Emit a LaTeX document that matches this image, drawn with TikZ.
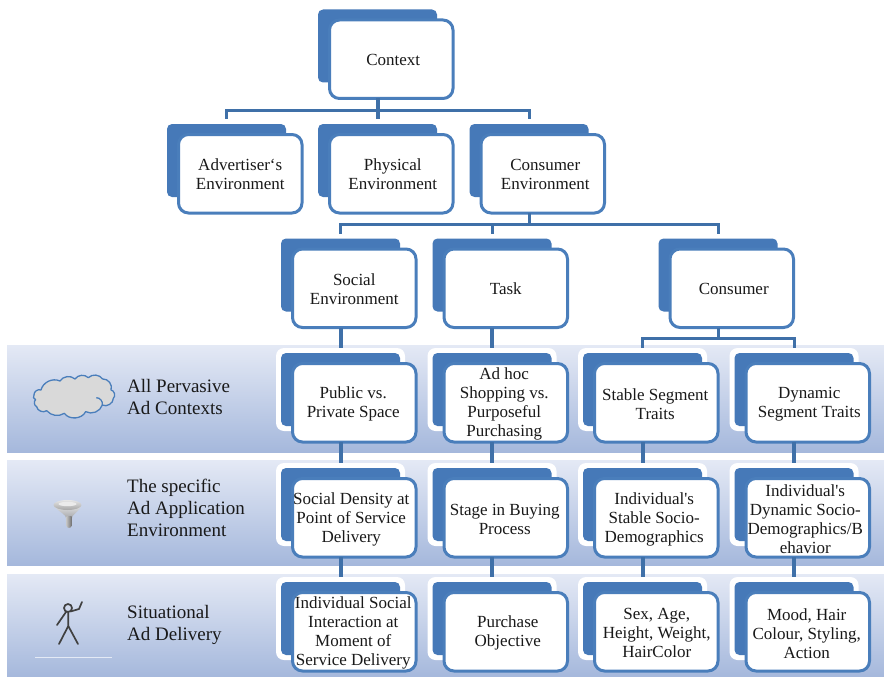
\documentclass[tikz,border=0pt]{standalone}
\usepackage{fontspec}
\setmainfont{Liberation Serif}
\definecolor{framec}{HTML}{4A7EBB}
\definecolor{backc}{HTML}{4679B8}
\definecolor{connc}{HTML}{3F70A8}
\definecolor{bandtop}{HTML}{E4E9F5}
\definecolor{bandbot}{HTML}{A5B8DC}
\tikzset{
  halobox/.style={fill=white,draw=none,rounded corners=8pt,minimum width=129pt,minimum height=83pt,inner sep=0pt,outer sep=0pt,anchor=north west},
  backbox/.style={fill=backc,draw=none,rounded corners=5pt,minimum width=119pt,minimum height=73pt,inner sep=0pt,outer sep=0pt,anchor=north west},
  frontbox/.style={fill=white,draw=framec,line width=3pt,rounded corners=10pt,minimum width=123.5pt,minimum height=78.5pt,inner sep=0pt,outer sep=0pt,anchor=north west},
  boxtext/.style={inner sep=0pt,outer sep=0pt,align=center,font=\fontsize{17}{19}\selectfont,text=black!90},
  conn/.style={draw=connc,line width=3pt},
  connthick/.style={draw=connc,line width=4pt},
  band/.style={top color=bandtop,bottom color=bandbot,draw=none},
  sidelabel/.style={anchor=west,align=left,inner sep=0pt,font=\fontsize{19}{22}\selectfont,text=black!90},
}
\newcommand{\tdy}{-0.5}
\newcommand{\adbox}[5][0]{%
  \pgfmathsetmacro{\bxa}{#3-10}\pgfmathsetmacro{\bya}{#4-9}%
  \pgfmathsetmacro{\hxa}{#3-15}\pgfmathsetmacro{\hya}{#4-14}%
  \pgfmathsetmacro{\fxa}{#3+1.5}\pgfmathsetmacro{\fya}{#4+1.5}%
  \node[halobox] (#2-h) at (\hxa,\hya) {};
  \node[backbox] (#2-b) at (\bxa,\bya) {};
  \node[frontbox] (#2) at (\fxa,\fya) {};
  \node[boxtext] (#2-t) at ([xshift=#1pt,yshift=\tdy pt]#2.center) {#5};
}
\newcommand{\sq}{\textquotesingle}
\begin{document}
\begin{tikzpicture}[x=1pt,y=-1pt]
\useasboundingbox (0,0) rectangle (884,677);
% bands
\path[band] (7,345) rectangle (884,452);
\path[band] (7,460) rectangle (884,565);
\path[band] (7,574) rectangle (884,677);
% boxes
\adbox[2]{ctx}{328}{18.5}{Context}
\adbox{adv}{177}{133}{Advertiser‘s\\Environment}
\adbox[1.5]{phys}{328}{133}{Physical\\Environment}
\adbox[2.5]{cenv}{479.5}{133}{Consumer\\Environment}
\adbox{soc}{291}{247.5}{Social\\Environment}
\adbox{task}{442.5}{247.5}{Task}
\adbox[2]{cons}{668.5}{247.5}{Consumer}
\renewcommand{\tdy}{-1.5}
\adbox[-1]{pub}{291}{362}{Public vs.\\Private Space}
\adbox[-1.5]{adhoc}{442.5}{362}{Ad hoc\\Shopping vs.\\Purposeful\\Purchasing}
\adbox[-1]{stab}{593}{362}{Stable Segment\\Traits}
\adbox[1.5]{dyn}{744.5}{362}{Dynamic\\Segment Traits}
\adbox[-3]{dens}{291}{477}{Social Density at\\Point of Service\\Delivery}
\adbox[-1]{stage}{442.5}{477}{Stage in Buying\\Process}
\adbox[-2]{isoc}{593}{477}{Individual\sq s\\Stable Socio-\\Demographics}
\adbox[-2.5]{idyn}{744.5}{477}{Individual\sq s\\Dynamic Socio-\\Demographics/B\\ehavior}
\adbox[-1]{inter}{291}{591}{Individual Social\\Interaction at\\Moment of\\Service Delivery}
\adbox[2]{purch}{442.5}{591}{Purchase\\Objective}
\adbox[0.5]{sex}{593}{591}{Sex, Age,\\Height, Weight,\\HairColor}
\adbox[-1]{mood}{744.5}{591}{Mood, Hair\\Colour, Styling,\\Action}
% connectors
\draw[conn] (ctx-h |- ctx.south) -- ++(0,12) -| (adv-h.north);
\draw[conn] (ctx-h |- ctx.south) -- ++(0,12) -| (cenv-h.north);
\draw[connthick] (ctx-h |- ctx.south) -- (phys-h.north);
\draw[conn] (cenv-h |- cenv.south) -- ++(0,11.5) -| (soc-h.north);
\draw[conn] (cenv-h |- cenv.south) -- ++(0,11.5) -| (task-h.north);
\draw[conn] (cenv-h |- cenv.south) -- ++(0,11.5) -| (cons-h.north);
\draw[connthick] (soc-h |- soc.south) -- (pub-h.north);
\draw[connthick] (task-h |- task.south) -- (adhoc-h.north);
\draw[conn] (cons-h |- cons.south) -- ++(0,10.5) -| (stab-h.north);
\draw[conn] (cons-h |- cons.south) -- ++(0,10.5) -| (dyn-h.north);
\draw[connthick] (pub-h |- pub.south) -- (dens-h.north);
\draw[connthick] (adhoc-h |- adhoc.south) -- (stage-h.north);
\draw[connthick] (stab-h |- stab.south) -- (isoc-h.north);
\draw[connthick] (dyn-h |- dyn.south) -- (idyn-h.north);
\draw[connthick] (dens-h |- dens.south) -- (inter-h.north);
\draw[connthick] (stage-h |- stage.south) -- (purch-h.north);
\draw[connthick] (isoc-h |- isoc.south) -- (sex-h.north);
\draw[connthick] (idyn-h |- idyn.south) -- (mood-h.north);
% side labels
\node[sidelabel] (l1) at (127,396.5) {All Pervasive\\Ad Contexts};
\node[sidelabel] (l2) at (127,507.5) {The specific\\Ad Application\\Environment};
\node[sidelabel] (l3) at (127,625) {Situational\\Ad Delivery};
% cloud
\begin{scope}[shift={(25,365)},x=0.3333pt,y=-0.3333pt]
\draw[fill=black!15,draw=framec,line width=1.3pt,line join=round]
  (48,75) to[bend left=50] (105,48) to[bend left=50] (150,42) to[bend left=50] (190,38)
  to[bend left=50] (233,42) to[bend left=60] (258,75) to[bend left=70] (265,100) to[bend left=60] (232,120)
  to[bend left=50] (182,140) to[bend left=60] (118,145) to[bend left=40] (65,137) to[bend left=60] (35,125)
  to[bend left=60] (32,104) to[bend left=70] (27,90) to[bend left=60] (48,75) -- cycle;
\draw[draw=framec,line width=1.3pt] (214,98) to[bend left=50] (232,120);
\end{scope}
% funnel
\path[top color=black!12,bottom color=black!38,opacity=.9] (54,506) .. controls (60,513) and (66,514) .. (66.5,519) -- (71.5,519) .. controls (72,514) and (78,513) .. (81,506) -- cycle;
\path[left color=black!25,right color=black!55] (66.5,516) -- (66.5,526) .. controls (67,528.5) and (71,528.5) .. (71.5,526) -- (71.5,516) -- cycle;
\path[top color=black!10,bottom color=black!35] (67.5,505) ellipse [x radius=14,y radius=5];
\fill[black!8] (67.5,504) ellipse [x radius=9,y radius=2.2];
% stick figure
\draw[black!75,line width=1.7pt,line cap=round,line join=round]
  (68,608) circle [radius=4]
  (68.3,612) -- (68.3,626) -- (59,644)
  (68.3,626) -- (78,644)
  (66,612) -- (57,625)
  (70.5,611.5) -- (79,609) -- (82,602);
\draw[white!70!bandbot,line width=.6pt] (35,657) -- (112,657);
\end{tikzpicture}
\end{document}
